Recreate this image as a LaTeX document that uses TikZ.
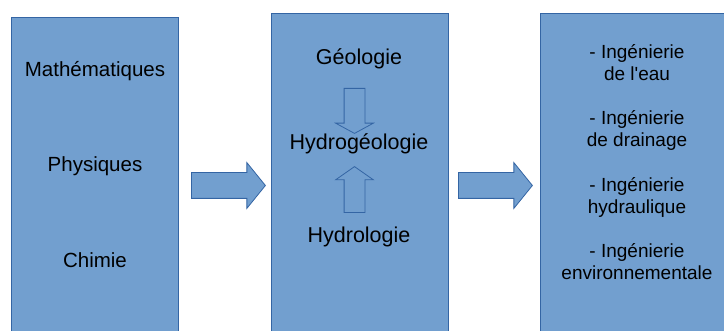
\documentclass[tikz,border=0pt]{standalone}
\usepackage{fontspec}
\setmainfont{Liberation Sans}
\usetikzlibrary{shapes.arrows}
\usepackage{xcolor}
\definecolor{boxblue}{HTML}{729FCF}
\definecolor{boxline}{HTML}{3465A4}

\begin{document}
\begin{tikzpicture}[x=1pt,y=-1pt]

\tikzset{box/.style = {shape=rectangle,draw=boxline,fill=boxblue,line width=0.8pt,anchor=north west,inner sep=0pt}}
\tikzset{bigarrow/.style = {shape=single arrow,draw=boxline,fill=boxblue,line width=0.8pt,inner xsep=0pt,inner ysep=12.5pt,
  single arrow head extend=10pt,single arrow tip angle=102,anchor=tail,minimum height=74pt}}
\tikzset{hollowarrow/.style = {shape=single arrow,draw=boxline,fill=boxblue,line width=0.8pt,inner xsep=0pt,inner ysep=10pt,
  single arrow head extend=8.5pt,anchor=tail}}
\tikzset{subject/.style = {anchor=base,align=center,inner sep=0pt}}

\useasboundingbox (0,0) rectangle (724,331);

%boxes
\node[box,minimum width=167pt,minimum height=330pt] (base) at (11,17) {};
\node[box,minimum width=177pt,minimum height=330pt] (hydro) at (271,13) {};
\node[box,minimum width=200pt,minimum height=330pt] (metier) at (540,13) {};

%arrows
\node[bigarrow] (a1) at (191,185.5) {};
\node[bigarrow] (a2) at (458,185.5) {};
\node[hollowarrow,rotate=-90,minimum height=45pt,single arrow tip angle=123] (down) at (354.5,88) {};
\node[hollowarrow,rotate=90,minimum height=46pt,single arrow tip angle=110] (up) at (354.5,213) {};

%texts
\node[subject,font=\fontsize{20.5}{22}\selectfont] (math) at (95,77) {Mathématiques};
\node[subject,font=\fontsize{20.5}{22}\selectfont] (phys) at (95,172) {Physiques};
\node[subject,font=\fontsize{20.5}{22}\selectfont] (chim) at (95,268) {Chimie};

\node[subject,font=\fontsize{21.5}{22}\selectfont] (geol) at (359,65) {Géologie};
\node[subject,font=\fontsize{21.5}{22}\selectfont] (hydrogeol) at (359,150) {Hydrogéologie};
\node[subject,font=\fontsize{21.5}{22}\selectfont] (hydrol) at (359,243) {Hydrologie};

\node[subject,font=\fontsize{19}{22}\selectfont] (eau) at (637,81) {- Ingénierie\\de l\textquotesingle eau};
\node[subject,font=\fontsize{19}{22}\selectfont] (drain) at (637,147) {- Ingénierie\\de drainage};
\node[subject,font=\fontsize{19}{22}\selectfont] (hydraul) at (637,214) {- Ingénierie\\hydraulique};
\node[subject,font=\fontsize{19}{22}\selectfont] (env) at (637,280) {- Ingénierie\\environnementale};
\end{tikzpicture}
\end{document}
